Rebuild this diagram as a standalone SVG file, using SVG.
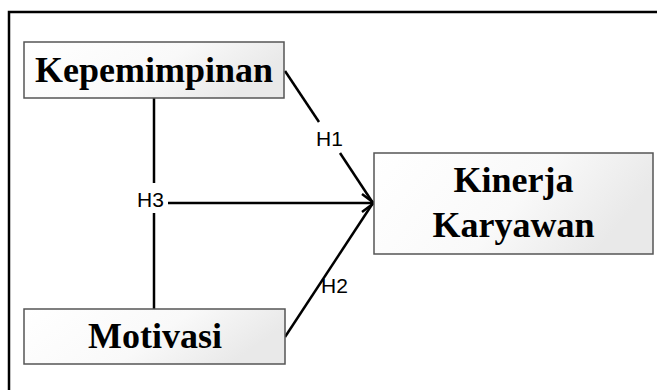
<svg xmlns="http://www.w3.org/2000/svg" width="657" height="390" viewBox="0 0 657 390">
  <defs>
    <linearGradient id="boxFill" x1="0" y1="0" x2="1" y2="0.3">
      <stop offset="0" stop-color="#ffffff"/>
      <stop offset="0.6" stop-color="#f9f9f9"/>
      <stop offset="1" stop-color="#e9e9e9"/>
    </linearGradient>
    <marker id="openArrow" viewBox="0 0 14 20" refX="13" refY="10" markerWidth="14" markerHeight="20" markerUnits="userSpaceOnUse" orient="auto">
      <path d="M1,1 L13,10 L1,19" fill="none" stroke="#000" stroke-width="2.5"/>
    </marker>
    <style>
      .box { fill: url(#boxFill); stroke: #555555; stroke-width: 1.5; }
      .title { font-family: "Liberation Serif", "Times New Roman", serif; font-weight: bold; font-size: 36px; fill: #000; text-anchor: middle; }
      .edge { fill: none; stroke: #000; stroke-width: 2.5; }
      .label { font-family: "Liberation Sans", Arial, sans-serif; font-size: 21px; fill: #000; }
      .frame { fill: none; stroke: #000; stroke-width: 2.5; }
    </style>
  </defs>

  <rect width="657" height="390" fill="#ffffff"/>

  <!-- outer frame: only the top and left edges fall inside the canvas -->
  <path class="frame" d="M9,390 L9,12 L657,12"/>

  <g id="connectors">
    <!-- H1 -->
    <path class="edge" d="M285,71 L319,122"/>
    <path class="edge" d="M340,153 L373,203"/>
    <text class="label" x="316" y="146">H1</text>
    <!-- H2 -->
    <path class="edge" d="M285,337 L373,203"/>
    <text class="label" x="321" y="293">H2</text>
    <!-- H3 -->
    <path class="edge" d="M154,98 L154,183"/>
    <path class="edge" d="M154,213 L154,309"/>
    <path class="edge" d="M168,203 L374,203" marker-end="url(#openArrow)"/>
    <text class="label" x="137" y="207">H3</text>
  </g>

  <g id="kepemimpinan">
    <rect class="box" x="24" y="42" width="260" height="56"/>
    <text class="title" x="154" y="82">Kepemimpinan</text>
  </g>

  <g id="motivasi">
    <rect class="box" x="24" y="309" width="261" height="55"/>
    <text class="title" x="155" y="348">Motivasi</text>
  </g>

  <g id="kinerja-karyawan">
    <rect class="box" x="374" y="153" width="279" height="101"/>
    <text class="title" x="513.5" y="192">Kinerja</text>
    <text class="title" x="513.5" y="237">Karyawan</text>
  </g>
</svg>
